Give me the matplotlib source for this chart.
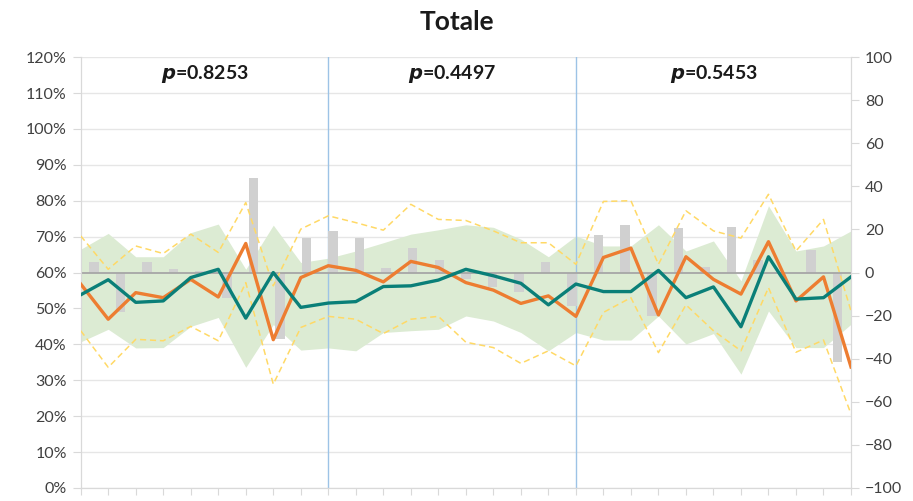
import numpy as np
import matplotlib
matplotlib.use("Agg")
import matplotlib.pyplot as plt
from matplotlib.ticker import FuncFormatter, MultipleLocator

plt.rcParams['font.family'] = ['Lato', 'DejaVu Sans']

# one point per period (29 periods)
orange = [56.8, 47.0, 54.4, 53.0, 58.1, 53.2, 68.1, 41.3, 58.6, 61.9,
          60.6, 57.4, 63.1, 61.4, 57.2, 55.1, 51.4, 53.5, 47.8,
          64.2, 66.8, 48.2, 64.4, 58.1, 54.0, 68.6, 52.1, 58.8, 33.7]
teal = [53.8, 58.0, 51.7, 52.1, 58.6, 60.9, 47.3, 60.0, 50.3, 51.5,
        51.9, 56.1, 56.3, 57.9, 60.9, 59.1, 57.0, 51.0, 56.8,
        54.7, 54.7, 60.6, 53.0, 56.0, 44.9, 64.4, 52.6, 53.0, 58.8]
band_hi = [66.5, 70.9, 64.4, 64.4, 71.1, 73.5, 60.9, 73.2, 62.8, 64.0,
           66.0, 68.3, 70.7, 71.9, 73.3, 72.6, 69.3, 64.4, 70.2,
           67.4, 67.4, 73.3, 66.0, 68.8, 57.7, 78.6, 66.0, 67.4, 71.6]
band_lo = [40.7, 44.2, 39.0, 39.1, 45.0, 47.5, 33.6, 45.5, 38.4, 39.0,
           38.2, 43.3, 43.8, 44.2, 47.9, 46.5, 43.3, 38.2, 43.3,
           41.2, 41.2, 47.9, 40.1, 43.0, 31.7, 49.3, 39.1, 39.1, 45.6]
dash_hi = [70.2, 60.9, 67.4, 65.3, 70.7, 65.6, 79.5, 56.3, 72.1, 75.8,
           73.9, 71.8, 79.0, 74.8, 74.5, 71.6, 68.3, 68.3, 62.3,
           79.8, 80.0, 62.3, 77.2, 71.6, 69.6, 81.8, 66.0, 74.8, 49.3]
dash_lo = [43.8, 33.6, 41.4, 41.0, 45.0, 41.0, 57.2, 28.9, 44.7, 47.8,
           47.0, 43.0, 47.0, 47.8, 40.6, 39.1, 34.7, 38.2, 34.0,
           48.9, 53.0, 37.7, 51.0, 43.8, 38.2, 55.8, 37.8, 41.2, 20.6]
# difference bars, right axis
bars = [5, -18.5, 5, 1.5, 0.5, -12, 44, -31, 16, 19.5,
        16, 2, 11.5, 6, -3, -6.5, -9, 5, -15.5,
        17.5, 22, -20, 20.5, 2.5, 21, 6, 0, 10.5, -41.5]

p_labels = ["0.8253", "0.4497", "0.5453"]
splits = [9, 18]  # period boundaries

n = len(orange)
x = np.arange(n)

fig = plt.figure(figsize=(9.13, 5.01), dpi=100)
ax = fig.add_axes([0.0884, 0.026, 0.8437, 0.860])

grid_c = '#D9D9D9'
ax.set_xlim(0, n - 1)
ax.set_ylim(0, 120)
ax.yaxis.set_major_locator(MultipleLocator(10))
ax.yaxis.set_major_formatter(FuncFormatter(lambda v, _: f"{v:.0f}%"))
ax.grid(axis='y', color='#E6E6E6', linewidth=1)
ax.set_axisbelow(True)
ax.fill_between(x, band_lo, band_hi, color='#DCEBD3', linewidth=0, zorder=1)
for s in splits:
    ax.axvline(s, color='#9DC3E6', linewidth=1, zorder=1.5)

# bars on the right-hand axis
axr = ax.twinx()
axr.set_ylim(-100, 100)
axr.yaxis.set_major_locator(MultipleLocator(20))
bar_x = (np.arange(n) + 0.5) * (n - 1) / n
axr.bar(bar_x, bars, width=0.345, color='#D0D0D0', zorder=2)
axr.axhline(0, color='#A6A6A6', linewidth=1.3)

# lines on top
axl = ax.twinx()
axl.set_ylim(0, 120)
axl.set_yticks([])
axl.plot(x, dash_hi, color='#FFD966', linestyle=(0, (4, 2.5)), linewidth=1.1)
axl.plot(x, dash_lo, color='#FFD966', linestyle=(0, (4, 2.5)), linewidth=1.1)
axl.plot(x, orange, color='#ED7D31', linewidth=2.4)
axl.plot(x, teal, color='#0A7F78', linewidth=2.4)

for a in (ax, axr, axl):
    a.spines['top'].set_visible(False)
    for side in ('left', 'right', 'bottom'):
        a.spines[side].set_color(grid_c)
axl.spines['left'].set_visible(False)
axl.spines['right'].set_visible(False)
axl.spines['bottom'].set_visible(False)

ax.set_xticks(x)
ax.set_xticklabels([])
ax.tick_params(axis='x', length=5, color=grid_c)
ax.tick_params(axis='y', length=6, color=grid_c, labelsize=11.5, labelcolor='#404040', pad=4)
axr.tick_params(axis='y', length=6, color=grid_c, labelsize=11.5, labelcolor='#404040', pad=4)

# p-values per period
edges = [0] + splits + [n - 1]
for i, lab in enumerate(p_labels):
    axl.text((edges[i] + edges[i + 1]) / 2, 115.3, f"$\\mathbfit{{p}}$=" + lab,
             ha='center', va='center', fontsize=14, fontweight='bold', color='#1a1a1a')

fig.text(0.5, 0.94, "Totale", ha='center', va='baseline', fontsize=19,
         fontweight='bold', color='#1a1a1a')

fig.savefig("out.png", dpi=100)
